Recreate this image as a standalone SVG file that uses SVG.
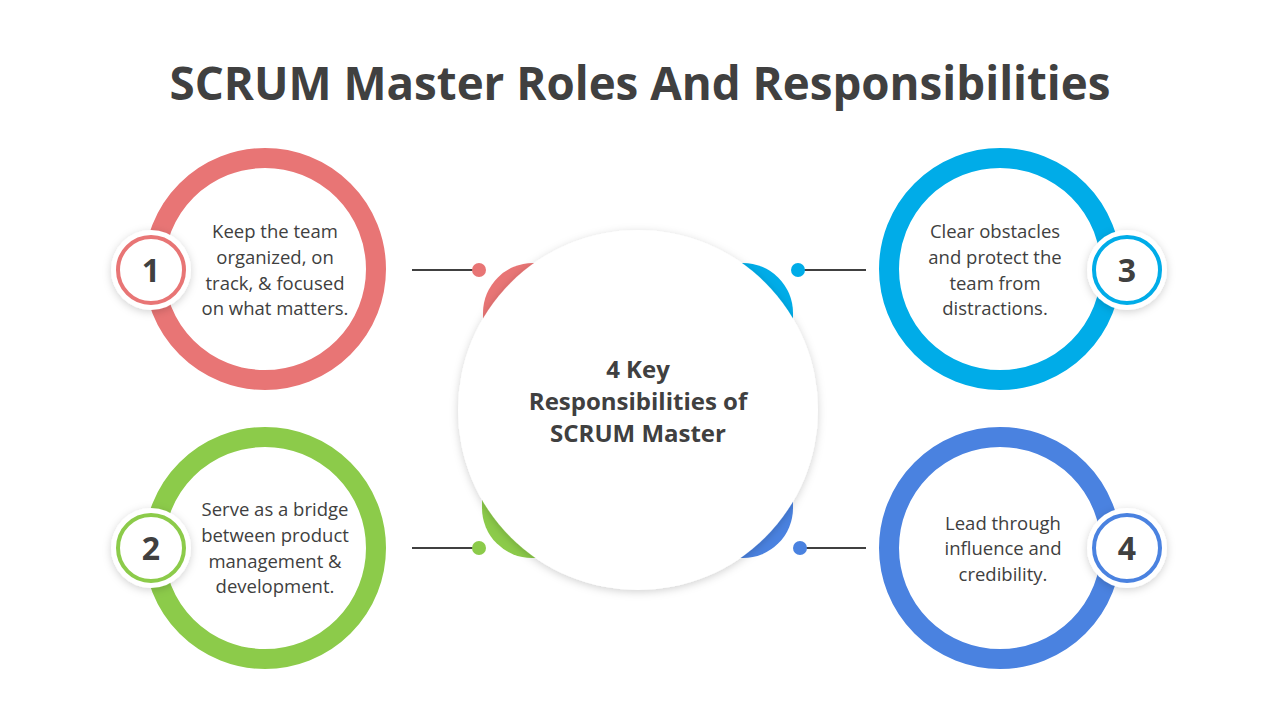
<svg xmlns="http://www.w3.org/2000/svg" width="1280" height="720" viewBox="0 0 1280 720">
<defs>
<filter id="sh" x="-20%" y="-20%" width="140%" height="140%"><feDropShadow dx="0" dy="2" stdDeviation="4" flood-color="#000" flood-opacity="0.18"/></filter>
<style>
.t{font-family:"Open Sans","Liberation Sans",sans-serif;fill:#404040}
.body{font-size:18.5px;text-anchor:middle}
.num{font-size:32px;font-weight:bold;text-anchor:middle}
.ln{stroke:#404040;stroke-width:2}
</style>
</defs>
<rect width="1280" height="720" fill="#fff"/>
<text class="t" x="640" y="100" font-size="45.7" font-weight="bold" text-anchor="middle">SCRUM Master Roles And Responsibilities</text>
<g id="connectors">
<line class="ln" x1="412" y1="270" x2="479" y2="270"/><circle cx="479" cy="270" r="7" fill="#e87575"/>
<line class="ln" x1="412" y1="548" x2="479" y2="548"/><circle cx="479" cy="548" r="7" fill="#8ccb4a"/>
<line class="ln" x1="798" y1="270" x2="866" y2="270"/><circle cx="798" cy="270" r="7" fill="#00ace8"/>
<line class="ln" x1="800" y1="548" x2="866" y2="548"/><circle cx="800" cy="548" r="7" fill="#4a82e0"/>
</g>
<g id="center">
<path d="M483,313 a50,50 0 0 1 50,-50 L638,263 L638,410 L483,410 Z" fill="#e87575"/>
<path d="M743,263 a50,50 0 0 1 50,50 L793,410 L638,410 L638,263 Z" fill="#00ace8"/>
<path d="M482,508 a50,50 0 0 0 50,50 L638,558 L638,410 L482,410 Z" fill="#8ccb4a"/>
<path d="M743,558 a50,50 0 0 0 50,-50 L793,410 L638,410 L638,558 Z" fill="#4a82e0"/>
<circle cx="638" cy="410" r="180" fill="#fff" filter="url(#sh)"/>
<text class="t" font-size="24" font-weight="bold" text-anchor="middle"><tspan x="638" y="378">4 Key</tspan><tspan x="638" y="410">Responsibilities of</tspan><tspan x="638" y="442">SCRUM Master</tspan></text>
</g>
<g id="node1">
<circle cx="265" cy="269" r="111" fill="#fff" stroke="#e87575" stroke-width="20"/>
<text class="t body"><tspan x="275" y="238">Keep the team</tspan><tspan x="275" y="264">organized, on</tspan><tspan x="275" y="290">track, &amp; focused</tspan><tspan x="275" y="315">on what matters.</tspan></text>
<circle cx="151" cy="270" r="40" fill="#fff" filter="url(#sh)"/><circle cx="151" cy="270" r="33" fill="#fff" stroke="#e87575" stroke-width="4"/>
<text class="t num" x="151" y="282">1</text>
</g>
<g id="node2">
<circle cx="265" cy="548" r="111" fill="#fff" stroke="#8ccb4a" stroke-width="20"/>
<text class="t body"><tspan x="275" y="516">Serve as a bridge</tspan><tspan x="275" y="542">between product</tspan><tspan x="275" y="568">management &amp;</tspan><tspan x="275" y="593">development.</tspan></text>
<circle cx="151" cy="548" r="40" fill="#fff" filter="url(#sh)"/><circle cx="151" cy="548" r="33" fill="#fff" stroke="#8ccb4a" stroke-width="4"/>
<text class="t num" x="151" y="560">2</text>
</g>
<g id="node3">
<circle cx="1000" cy="269" r="111" fill="#fff" stroke="#00ace8" stroke-width="20"/>
<text class="t body"><tspan x="995" y="238">Clear obstacles</tspan><tspan x="995" y="264">and protect the</tspan><tspan x="995" y="290">team from</tspan><tspan x="995" y="315">distractions.</tspan></text>
<circle cx="1127" cy="270" r="40" fill="#fff" filter="url(#sh)"/><circle cx="1127" cy="270" r="33" fill="#fff" stroke="#00ace8" stroke-width="4"/>
<text class="t num" x="1127" y="282">3</text>
</g>
<g id="node4">
<circle cx="1000" cy="548" r="111" fill="#fff" stroke="#4a82e0" stroke-width="20"/>
<text class="t body"><tspan x="1003" y="530">Lead through</tspan><tspan x="1003" y="555">influence and</tspan><tspan x="1003" y="581">credibility.</tspan></text>
<circle cx="1127" cy="548" r="40" fill="#fff" filter="url(#sh)"/><circle cx="1127" cy="548" r="33" fill="#fff" stroke="#4a82e0" stroke-width="4"/>
<text class="t num" x="1127" y="560">4</text>
</g>
</svg>
